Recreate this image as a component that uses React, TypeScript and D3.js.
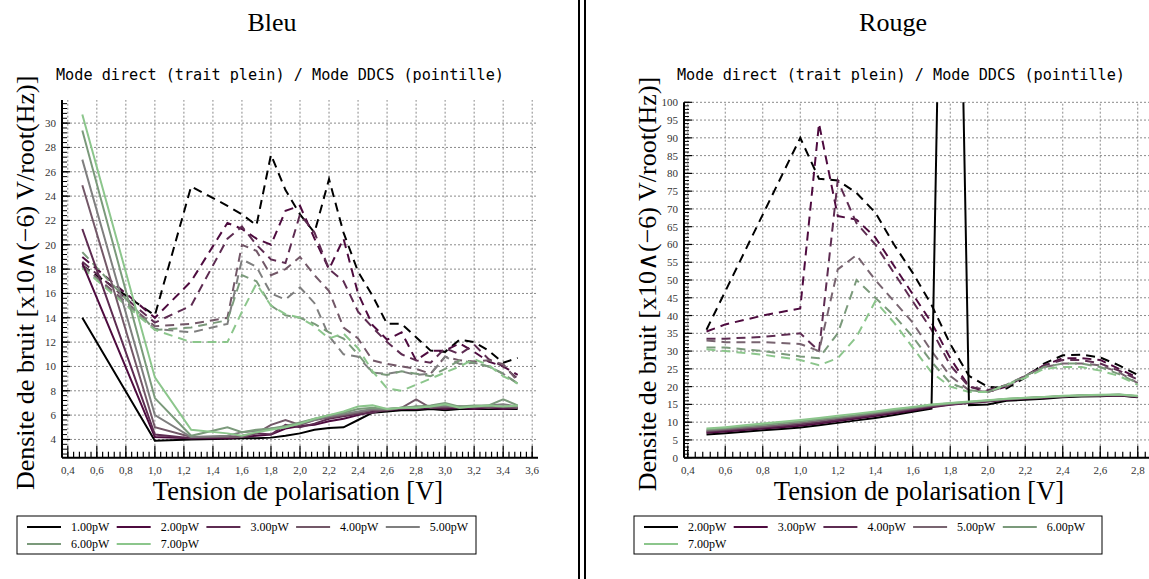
import React from 'react';
import * as d3 from 'd3';

// ---------- data: Bleu ----------
const BLEU_LABELS = ['1.00pW', '2.00pW', '3.00pW', '4.00pW', '5.00pW', '6.00pW', '7.00pW'];
const BLEU_COLORS = ['#000000', '#4e0b3f', '#5e2c52', '#735868', '#7f7f7f', '#7b9a7b', '#8cc68c'];
const BLEU_X = [0.5, 1.0, 1.25, 1.5, 1.6, 1.7, 1.8, 1.9, 2.0, 2.1, 2.2, 2.3, 2.4, 2.5, 2.6, 2.7, 2.8, 2.9, 3.0, 3.1, 3.2, 3.3, 3.4, 3.5];
const BLEU_DIRECT_1 = [14.0, 3.9, 4.0, 4.05, 4.1, 4.1, 4.15, 4.3, 4.5, 4.8, 4.95, 5.0, 5.6, 6.2, 6.3, 6.4, 6.4, 6.5, 6.4, 6.5, 6.5, 6.5, 6.5, 6.5];
const BLEU_DIRECT_2 = [18.5, 4.2, 4.1, 4.1, 4.2, 4.3, 4.4, 4.9, 5.1, 5.2, 5.5, 5.7, 6.0, 6.3, 6.4, 6.5, 6.5, 6.6, 6.5, 6.6, 6.5, 6.6, 6.5, 6.6];
const BLEU_DIRECT_3 = [21.3, 4.4, 4.1, 4.2, 4.3, 4.5, 4.4, 5.2, 5.0, 5.3, 5.7, 5.9, 6.1, 6.2, 6.5, 6.5, 6.7, 6.6, 6.6, 6.7, 6.6, 6.7, 6.6, 6.6];
const BLEU_DIRECT_4 = [24.9, 5.0, 4.2, 4.2, 4.2, 4.5, 5.2, 5.6, 5.2, 5.6, 5.8, 6.0, 6.2, 6.4, 6.4, 6.6, 7.3, 6.6, 6.7, 6.6, 6.7, 6.6, 6.7, 6.6];
const BLEU_DIRECT_5 = [27.0, 6.0, 4.2, 4.3, 4.6, 4.7, 4.9, 5.0, 5.3, 5.6, 5.9, 6.1, 6.3, 6.5, 6.5, 6.6, 6.6, 6.7, 6.8, 6.7, 6.7, 6.8, 6.9, 6.7];
const BLEU_DIRECT_6 = [29.4, 7.4, 4.3, 5.0, 4.6, 4.8, 4.9, 5.1, 5.4, 5.7, 6.0, 6.2, 6.5, 6.6, 6.5, 6.6, 6.7, 6.8, 7.0, 6.7, 6.8, 6.8, 7.3, 6.8];
const BLEU_DIRECT_7 = [30.7, 9.1, 4.8, 4.5, 4.3, 4.6, 4.8, 5.0, 5.3, 5.7, 6.0, 6.3, 6.7, 6.8, 6.5, 6.6, 6.6, 6.7, 6.9, 6.6, 6.7, 6.8, 6.7, 6.8];
const BLEU_DDCS_1 = [18.3, 14.2, 24.8, 23.2, 22.5, 21.6, 27.4, 24.5, 22.5, 21.0, 25.4, 21.0, 17.8, 15.8, 13.5, 13.5, 12.4, 11.3, 11.2, 12.2, 12.0, 11.3, 10.3, 10.7];
const BLEU_DDCS_2 = [19.0, 14.0, 17.0, 21.8, 21.3, 20.5, 20.0, 22.8, 23.2, 20.5, 18.0, 20.5, 16.0, 13.4, 12.2, 12.8, 10.5, 11.3, 11.3, 11.9, 11.2, 10.4, 10.0, 9.3];
const BLEU_DDCS_3 = [18.6, 13.6, 15.0, 20.5, 21.5, 20.0, 18.8, 18.5, 22.5, 21.0, 18.0, 17.0, 14.5, 13.2, 12.0, 11.0, 10.5, 10.3, 11.5, 11.0, 11.8, 10.6, 10.0, 9.0];
const BLEU_DDCS_4 = [18.3, 13.3, 13.5, 14.0, 20.0, 19.5, 17.5, 18.0, 19.0, 17.5, 16.2, 13.2, 12.3, 10.5, 10.2, 10.0, 9.8, 9.4, 10.8, 10.5, 10.4, 10.5, 10.2, 8.8];
const BLEU_DDCS_5 = [18.2, 13.1, 12.8, 13.5, 18.8, 18.2, 16.0, 15.5, 16.5, 15.2, 12.5, 11.0, 10.8, 9.5, 9.4, 9.6, 9.3, 9.4, 10.8, 10.2, 10.3, 10.0, 9.4, 8.6];
const BLEU_DDCS_6 = [19.4, 13.0, 13.2, 13.8, 17.5, 17.0, 15.0, 14.2, 14.0, 13.5, 12.8, 12.3, 11.0, 9.5, 9.3, 9.6, 9.4, 9.2, 9.8, 10.5, 10.3, 10.0, 9.4, 8.6];
const BLEU_DDCS_7 = [18.1, 13.0, 12.0, 12.0, 14.5, 16.8, 15.0, 14.3, 14.0, 13.3, 12.3, 12.7, 11.5, 9.6, 8.2, 8.0, 8.5, 9.0, 9.5, 10.0, 10.6, 10.1, 9.2, 8.6];
const BLEU_X_TICKS = [0.4, 0.6, 0.8, 1.0, 1.2, 1.4, 1.6, 1.8, 2.0, 2.2, 2.4, 2.6, 2.8, 3.0, 3.2, 3.4, 3.6];
const BLEU_Y_TICKS = [4, 6, 8, 10, 12, 14, 16, 18, 20, 22, 24, 26, 28, 30];

// ---------- data: Rouge ----------
const ROUGE_LABELS = ['2.00pW', '3.00pW', '4.00pW', '5.00pW', '6.00pW', '7.00pW'];
const ROUGE_COLORS = ['#000000', '#4e0b3f', '#5e2c52', '#786470', '#7b9a7b', '#8cc68c'];
const ROUGE_X_DIRECT = [0.5, 0.6, 0.7, 0.8, 0.9, 1.0, 1.1, 1.2, 1.3, 1.4, 1.5, 1.6, 1.7, 1.8, 1.9, 2.0, 2.1, 2.2, 2.3, 2.4, 2.5, 2.6, 2.7, 2.8];
const ROUGE_DIRECT_2 = [6.5, 6.9, 7.3, 7.7, 8.1, 8.5, 9.1, 9.8, 10.5, 11.2, 12.0, 12.9, 13.8, 300, 14.8, 15.0, 16.0, 16.3, 16.6, 17.0, 17.2, 17.3, 17.5, 17.0];
const ROUGE_DIRECT_3 = [7.0, 7.4, 7.8, 8.2, 8.6, 9.0, 9.6, 10.3, 11.0, 11.7, 12.5, 13.3, 14.2, 14.9, 15.4, 15.8, 16.3, 16.6, 16.9, 17.2, 17.4, 17.5, 17.6, 17.1];
const ROUGE_DIRECT_4 = [7.3, 7.7, 8.1, 8.5, 8.9, 9.4, 10.0, 10.7, 11.4, 12.1, 12.8, 13.6, 14.4, 15.0, 15.5, 15.9, 16.4, 16.7, 17.0, 17.2, 17.4, 17.5, 17.6, 17.2];
const ROUGE_DIRECT_5 = [7.6, 8.0, 8.4, 8.8, 9.3, 9.8, 10.4, 11.1, 11.7, 12.4, 13.1, 13.9, 14.6, 15.2, 15.6, 16.0, 16.5, 16.8, 17.0, 17.3, 17.5, 17.6, 17.7, 17.3];
const ROUGE_DIRECT_6 = [7.9, 8.3, 8.8, 9.2, 9.7, 10.2, 10.8, 11.4, 12.0, 12.7, 13.4, 14.1, 14.8, 15.3, 15.7, 16.1, 16.5, 16.8, 17.1, 17.3, 17.5, 17.6, 17.8, 17.3];
const ROUGE_DIRECT_7 = [8.2, 8.6, 9.1, 9.6, 10.1, 10.6, 11.2, 11.8, 12.4, 13.0, 13.7, 14.3, 15.0, 15.4, 15.8, 16.2, 16.6, 16.9, 17.1, 17.4, 17.6, 17.7, 17.8, 17.4];
const ROUGE_X_DDCS = [0.5, 0.6, 0.8, 1.0, 1.1, 1.2, 1.3, 1.4, 1.5, 1.6, 1.7, 1.8, 1.9, 2.0, 2.1, 2.2, 2.3, 2.4, 2.5, 2.6, 2.7, 2.8];
const ROUGE_DDCS_2 = [36, 46.8, 68.4, 90, 78.5, 78, 74.5, 69, 60, 52, 43, 32, 23, 20, 19.5, 22.5, 26.5, 28.8, 29, 28.2, 26, 23.3];
const ROUGE_DDCS_3 = [35.5, 37.5, 40, 42, 94, 68, 67, 62, 54, 46, 38, 28, 20, 18.5, 20, 23, 26, 28, 28, 27.5, 25, 22.5];
const ROUGE_DDCS_4 = [33.5, 33.5, 34, 35, 30, 78, 66, 60, 52, 44, 36, 26, 20, 19, 20.5, 23, 26, 27.5, 27.5, 26.5, 24.5, 22];
const ROUGE_DDCS_5 = [33, 32.5, 32.5, 32, 30, 53, 57, 50, 44, 38, 30, 23, 19, 18.5, 20, 23, 25.5, 26.5, 26.5, 26, 24, 21];
const ROUGE_DDCS_6 = [31, 31, 30, 28.5, 28, 35, 50, 45, 40, 34, 27, 21, 19, 18.5, 20.5, 23, 25.5, 26.5, 26.5, 25.5, 23.5, 21];
const ROUGE_DDCS_7 = [30.5, 30, 29, 27.5, 26, 28, 34, 44, 38, 31, 24, 20, 18.5, 18.5, 20.5, 22.5, 25, 25.5, 25.5, 24.5, 23, 20.5];
const ROUGE_X_TICKS = [0.4, 0.6, 0.8, 1.0, 1.2, 1.4, 1.6, 1.8, 2.0, 2.2, 2.4, 2.6, 2.8];
const ROUGE_Y_TICKS = [0, 5, 10, 15, 20, 25, 30, 35, 40, 45, 50, 55, 60, 65, 70, 75, 80, 85, 90, 95, 100];

const SUBTITLE = 'Mode direct (trait plein) / Mode DDCS (pointille)';
const X_LABEL = 'Tension de polarisation [V]';
const Y_LABEL = 'Densite de bruit [x10\u2227(\u22126) V/root(Hz)]';

const SERIF = '"Liberation Serif", "DejaVu Serif", serif';
const MONO = '"DejaVu Sans Mono", monospace';

const fmt = (v: number) => d3.format('.1f')(v).replace('.', ',');

type PanelProps = {
  id: string;
  title: string;
  cx: number;
  xDomain: [number, number];
  xRange: [number, number];
  yDomain: [number, number];
  yRange: [number, number];
  xTicks: number[];
  yTicks: number[];
  xMinor: number;
  yMinor: number;
  direct: { x: number[]; ys: number[][] };
  ddcs: { x: number[]; ys: number[][] };
  colors: string[];
  labels: string[];
  legendBox: [number, number, number, number];
  gridRight: number;
  xLabelCx: number;
};

function Panel(p: PanelProps) {
  const x = d3.scaleLinear().domain(p.xDomain).range(p.xRange);
  const y = d3.scaleLinear().domain(p.yDomain).range(p.yRange);
  const [x0, x1] = p.xRange;
  const [yb, yt] = p.yRange;
  const minorX = d3.range(Math.ceil((p.xDomain[0] + 1e-9) / p.xMinor) * p.xMinor, p.xDomain[1], p.xMinor);
  const minorY = d3.range(Math.ceil(p.yDomain[0] / p.yMinor) * p.yMinor, p.yDomain[1] + 1e-9, p.yMinor);
  const mkLine = (xs: number[]) =>
    d3
      .line<number>()
      .x((_, i) => x(xs[i]))
      .y((d) => y(d));
  const lineD = mkLine(p.direct.x);
  const lineS = mkLine(p.ddcs.x);
  const [lx, ly, lw, lh] = p.legendBox;
  return (
    <g>
      <defs>
        <clipPath id={`clip-${p.id}`}>
          <rect x={x0} y={yt} width={x1 - x0} height={yb - yt} />
        </clipPath>
      </defs>
      <text x={p.cx} y={31} textAnchor="middle" fontFamily={SERIF} fontSize={26}>
        {p.title}
      </text>
      <text x={p.cx + 8} y={80} textAnchor="middle" fontFamily={MONO} fontSize={15.2}>
        {SUBTITLE}
      </text>
      {/* grid */}
      <g stroke="#8a8a8a" strokeWidth={1} strokeDasharray="2,2">
        {p.xTicks.map((t) => (
          <line key={'gx' + t} x1={x(t)} x2={x(t)} y1={yb} y2={yt} />
        ))}
        {p.yTicks.map((t) => (
          <line key={'gy' + t} x1={x0} x2={p.gridRight} y1={y(t)} y2={y(t)} />
        ))}
      </g>
      {/* series */}
      <g clipPath={`url(#clip-${p.id})`} fill="none">
        {p.ddcs.ys.map((s, i) => (
          <path key={'s' + i} d={lineS(s) || ''} stroke={p.colors[i]} strokeWidth={2} strokeDasharray="9,6" />
        ))}
        {p.direct.ys.map((s, i) => (
          <path key={'d' + i} d={lineD(s) || ''} stroke={p.colors[i]} strokeWidth={2} />
        ))}
      </g>
      {/* axes */}
      <g stroke="#000">
        <line x1={x0} x2={x1} y1={yb} y2={yb} strokeWidth={2} />
        <line x1={x0} x2={x0} y1={yb} y2={yt} strokeWidth={2} />
        {minorX.map((t) => (
          <line key={'mx' + t} x1={x(t)} x2={x(t)} y1={yb} y2={yb - 6} strokeWidth={1.2} />
        ))}
        {p.xTicks.map((t) => (
          <line key={'tx' + t} x1={x(t)} x2={x(t)} y1={yb} y2={yb - 12} strokeWidth={1.2} />
        ))}
        {minorY.map((t) => (
          <line key={'my' + t} x1={x0} x2={x0 + 5} y1={y(t)} y2={y(t)} strokeWidth={1} />
        ))}
        {p.yTicks.map((t) => (
          <line key={'ty' + t} x1={x0} x2={x0 + 8} y1={y(t)} y2={y(t)} strokeWidth={1.2} />
        ))}
      </g>
      <g fontFamily={SERIF} fontSize={11} fill="#333">
        {p.xTicks.map((t) => (
          <text key={'lx' + t} x={x(t)} y={yb + 16} textAnchor="middle">
            {fmt(t)}
          </text>
        ))}
        {p.yTicks.map((t) => (
          <text key={'ly' + t} x={x0 - 6} y={y(t) + 4} textAnchor="end">
            {String(t)}
          </text>
        ))}
      </g>
      <text x={p.xLabelCx} y={500} textAnchor="middle" fontFamily={SERIF} fontSize={26.5}>
        {X_LABEL}
      </text>
      <text
        transform={`translate(${x0 - 28},${(yb + yt) / 2 + 4}) rotate(-90)`}
        textAnchor="middle"
        fontFamily={SERIF}
        fontSize={26}
      >
        {Y_LABEL}
      </text>
      {/* legend */}
      <rect x={lx} y={ly} width={lw} height={lh} fill="none" stroke="#000" strokeWidth={1} />
      {p.labels.map((lab, i) => {
        const col = i % 5;
        const row = Math.floor(i / 5);
        const bx = lx + 10 + col * 89.7;
        const by = ly + 11 + row * 17;
        return (
          <g key={lab}>
            <line x1={bx} x2={bx + 34} y1={by} y2={by} stroke={p.colors[i]} strokeWidth={2} />
            <text x={bx + 44} y={by + 4} fontFamily={SERIF} fontSize={12}>
              {lab}
            </text>
          </g>
        );
      })}
    </g>
  );
}

export default function App() {
  return (
    <svg width={1149} height={579} style={{ position: 'absolute', left: 0, top: 0, background: '#fff' }}>
      <rect x={0} y={0} width={1149} height={579} fill="#fff" />
      <Panel
        id="bleu"
        title="Bleu"
        cx={272}
        xDomain={[0.36, 3.64]}
        xRange={[62, 538]}
        yDomain={[2.5, 31.9]}
        yRange={[457.7, 100]}
        xTicks={BLEU_X_TICKS}
        yTicks={BLEU_Y_TICKS}
        xMinor={0.04}
        yMinor={0.4}
        direct={{ x: BLEU_X, ys: [BLEU_DIRECT_1, BLEU_DIRECT_2, BLEU_DIRECT_3, BLEU_DIRECT_4, BLEU_DIRECT_5, BLEU_DIRECT_6, BLEU_DIRECT_7] }}
        ddcs={{ x: BLEU_X, ys: [BLEU_DDCS_1, BLEU_DDCS_2, BLEU_DDCS_3, BLEU_DDCS_4, BLEU_DDCS_5, BLEU_DDCS_6, BLEU_DDCS_7] }}
        colors={BLEU_COLORS}
        labels={BLEU_LABELS}
        legendBox={[17, 516, 459, 38]}
        gridRight={538}
        xLabelCx={298}
      />
      <Panel
        id="rouge"
        title="Rouge"
        cx={893}
        xDomain={[0.38, 2.86]}
        xRange={[684, 1149]}
        yDomain={[0, 100]}
        yRange={[457.7, 102.3]}
        xTicks={ROUGE_X_TICKS}
        yTicks={ROUGE_Y_TICKS}
        xMinor={0.04}
        yMinor={1}
        direct={{ x: ROUGE_X_DIRECT, ys: [ROUGE_DIRECT_2, ROUGE_DIRECT_3, ROUGE_DIRECT_4, ROUGE_DIRECT_5, ROUGE_DIRECT_6, ROUGE_DIRECT_7] }}
        ddcs={{ x: ROUGE_X_DDCS, ys: [ROUGE_DDCS_2, ROUGE_DDCS_3, ROUGE_DDCS_4, ROUGE_DDCS_5, ROUGE_DDCS_6, ROUGE_DDCS_7] }}
        colors={ROUGE_COLORS}
        labels={ROUGE_LABELS}
        legendBox={[634, 516, 468, 38]}
        gridRight={1149}
        xLabelCx={919}
      />
      <line x1={579} x2={579} y1={0} y2={579} stroke="#000" strokeWidth={2} />
      <line x1={585} x2={585} y1={0} y2={579} stroke="#000" strokeWidth={2} />
    </svg>
  );
}
